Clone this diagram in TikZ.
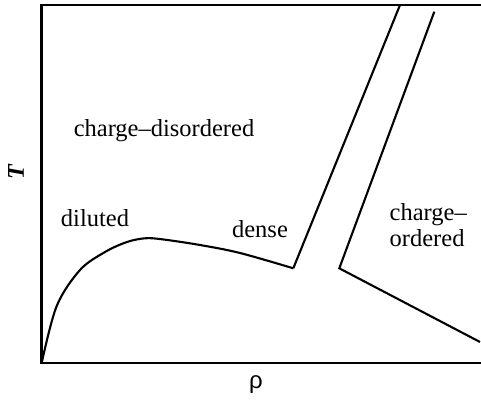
\documentclass[tikz,border=0pt]{standalone}
\usepackage{fontspec}
\setmainfont{Liberation Serif}
\newfontfamily\rhofont{Liberation Sans}
\begin{document}
\begin{tikzpicture}[x=1pt,y=-1pt,
  frame/.style={line width=2.2pt},
  curve/.style={line width=2.1pt, line join=miter},
  lbl/.style={font=\fontsize{24.5}{28}\selectfont, inner sep=0pt, anchor=base},
  axlbl/.style={font=\fontsize{24}{28}\selectfont, inner sep=0pt}]
\useasboundingbox (0,0) rectangle (481,401);
% frame
\draw[frame] (482,5) -- (41.5,5) -- (41.5,363.3) -- (482,363.3);
% coordinates
\coordinate (o) at (41.7,363);
\coordinate (dn) at (293.3,268.3);
\coordinate (t1) at (400,5);
\coordinate (t2) at (434.3,11.7);
\coordinate (co) at (339.3,268.3);
\coordinate (e) at (480,342);
% coexistence curve
\draw[curve] plot[smooth, tension=0.55] coordinates {(41.7,363) (56.7,306) (80,270) (105,252) (127,242) (145,238.3) (162,239.3) (200,245) (240,253) (293.3,268.3)};
\draw[curve] (dn) -- (t1);
\draw[curve] (t2) -- (co) -- (e);
% labels
\node[lbl] (cd) at (164,136) {charge–disordered};
\node[lbl] (dil) at (95,226) {diluted};
\node[lbl] (den) at (260,237.3) {dense};
\node[lbl, anchor=base west] (co1) at (389.5,220.5) {charge–};
\node[lbl, anchor=base west] (co2) at (389.5,246.7) {ordered};
\node[axlbl, rotate=90] (T) at (16,172.5) {\bfseries\itshape T};
\node[axlbl] (rho) at (256,385) {\rhofont ρ};
\end{tikzpicture}
\end{document}
